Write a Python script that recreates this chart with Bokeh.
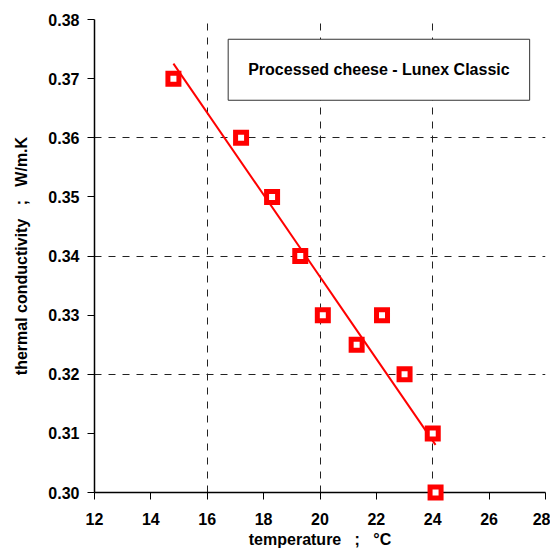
import numpy as np
from bokeh.plotting import figure
from bokeh.models import Range1d, FixedTicker, PrintfTickFormatter, Label
from bokeh.embed import file_html
from bokeh.resources import INLINE

temperature = [14.8, 17.2, 18.3, 19.3, 20.1, 21.3, 22.2, 23.0, 24.0, 24.1]
conductivity = [0.370, 0.360, 0.350, 0.340, 0.330, 0.325, 0.330, 0.320, 0.310, 0.300]
x_ticks = [12, 14, 16, 18, 20, 22, 24, 26, 28]
y_ticks = [0.30, 0.31, 0.32, 0.33, 0.34, 0.35, 0.36, 0.37, 0.38]
x_grid = [16, 20, 24, 28]
y_grid = [0.32, 0.34, 0.36, 0.38]
title_text = "Processed cheese - Lunex Classic"

FONT = "Liberation Sans"
NB = "\u00a0"

p = figure(output_backend="svg", toolbar_location=None,
           width=550, height=547,
           frame_width=451, frame_height=473,
           min_border_left=94, min_border_top=19, min_border_right=5, min_border_bottom=55,
           x_range=Range1d(12, 28), y_range=Range1d(0.30, 0.38))
p.outline_line_color = None
p.background_fill_color = "white"
p.border_fill_color = "white"

for ax in (p.xaxis[0], p.yaxis[0]):
    ax.axis_line_color = "black"
    ax.axis_line_width = 1.5
    ax.major_tick_line_color = "black"
    ax.major_tick_line_width = 1
    ax.major_tick_in = 0
    ax.major_tick_out = 7
    ax.minor_tick_line_color = None
    ax.major_label_text_font = FONT
    ax.major_label_text_font_style = "bold"
    ax.major_label_text_font_size = "16px"
    ax.major_label_text_color = "black"
    ax.axis_label_text_font = FONT
    ax.axis_label_text_font_style = "bold"
    ax.axis_label_text_font_size = "16px"
    ax.axis_label_text_color = "black"

p.xaxis[0].ticker = FixedTicker(ticks=x_ticks)
p.yaxis[0].ticker = FixedTicker(ticks=y_ticks)
p.yaxis[0].formatter = PrintfTickFormatter(format="%.2f")
p.xaxis[0].major_label_standoff = 13
p.yaxis[0].major_label_standoff = 8
p.xaxis[0].axis_label = "temperature" + NB * 3 + ";" + NB * 3 + "°C"
p.yaxis[0].axis_label = "thermal conductivity" + NB * 3 + ";" + NB * 3 + "W/m.K"
p.xaxis[0].axis_label_standoff = 3
p.yaxis[0].axis_label_standoff = 15

p.xgrid[0].ticker = FixedTicker(ticks=x_grid)
p.ygrid[0].ticker = FixedTicker(ticks=y_grid)
for g in (p.xgrid[0], p.ygrid[0]):
    g.grid_line_color = "#222222"
    g.grid_line_dash = "7 7"
    g.grid_line_width = 1

# regression line
slope, intercept = np.polyfit(temperature, conductivity, 1)
xs = [min(temperature), max(temperature)]
ys = [slope * x + intercept for x in xs]
p.line(xs, ys, line_color="#ff0000", line_width=2)

p.scatter(temperature, conductivity, marker="square", size=11,
          fill_color="white", line_color="#ff0000", line_width=5,
          line_join="miter", level="overlay")

lbl = Label(x=22.09, y=0.3715, text=title_text,
            text_align="center", text_baseline="middle",
            text_font=FONT, text_font_style="bold", text_font_size="16px",
            text_color="black",
            background_fill_color="white",
            border_line_color="#333333", border_line_width=1,
            padding=(20, 22))
p.add_layout(lbl)

open("out.html", "w").write(file_html(p, INLINE))
